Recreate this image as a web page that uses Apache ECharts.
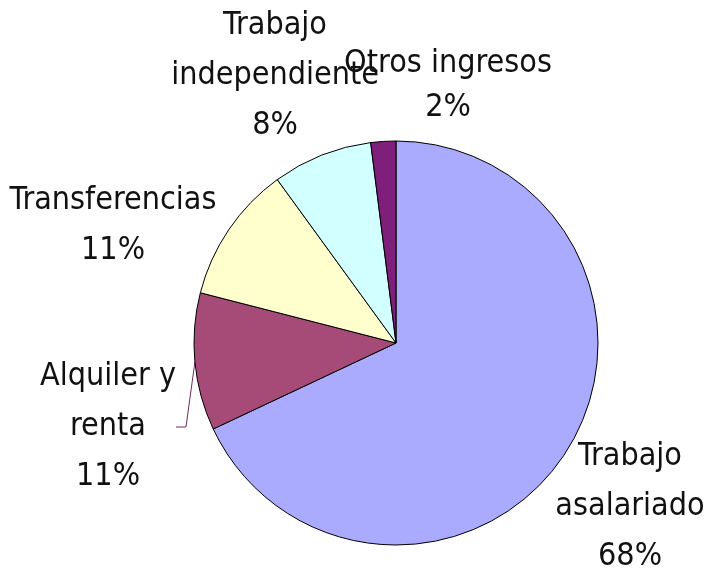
<!DOCTYPE html>
<html>
<head>
<meta charset="utf-8">
<script src="https://cdn.jsdelivr.net/npm/echarts@6/dist/echarts.min.js"></script>
<style>
  html, body { margin: 0; padding: 0; background: #fff; }
  #myChart { width: 706px; height: 573px; }
</style>
</head>
<body>
<div id="myChart"></div>
<script>
  // datos del gráfico
  var categories = ['Trabajo asalariado', 'Alquiler y renta', 'Transferencias', 'Trabajo independiente', 'Otros ingresos'];
  var values = [68, 11, 11, 8, 2];

  // cómo se parte el nombre en líneas
  var labelNames = {
    'Trabajo asalariado': 'Trabajo\nasalariado',
    'Alquiler y renta': 'Alquiler y\nrenta',
    'Trabajo independiente': 'Trabajo\nindependiente'
  };
  var colors = ['#AAAAFF', '#A64B78', '#FFFFCE', '#D2FFFF', '#7E1F7B'];
  // centro de cada etiqueta
  var labelPos = [[630, 507], [108, 427], [113, 226], [275, 76], [448, 86]];

  var myChart = echarts.init(document.getElementById('myChart'));

  var seriesData = categories.map(function (name, i) {
    return {
      name: name,
      value: values[i],
      itemStyle: { color: colors[i] },
      label: { lineHeight: i === 4 ? 44 : 50 },
      labelLine: { show: i === 1 }
    };
  });

  var option = {
    animation: false,
    series: [
      {
        type: 'pie',
        center: [396, 343],
        radius: 202,
        startAngle: 90,
        clockwise: true,
        percentPrecision: 0,
        data: seriesData,
        itemStyle: { borderColor: '#000', borderWidth: 1 },
        label: {
          show: true,
          position: 'outside',
          color: '#111',
          overflow: 'none',
          fontFamily: '"Liberation Sans Narrow", "DejaVu Sans Condensed", sans-serif',
          fontSize: 32,
          align: 'center',
          formatter: function (p) {
            var n = labelNames[p.name] || p.name;
            return n + '\n' + p.percent + '%';
          }
        },
        labelLine: {
          length: 10,
          length2: 10,
          lineStyle: { color: '#6E2A62', width: 1 }
        },
        labelLayout: function (params) {
          var pos = labelPos[params.dataIndex];
          return {
            x: pos[0],
            y: pos[1],
            align: 'center',
            verticalAlign: 'middle'
          };
        }
      }
    ]
  };

  myChart.setOption(option);
</script>
</body>
</html>
